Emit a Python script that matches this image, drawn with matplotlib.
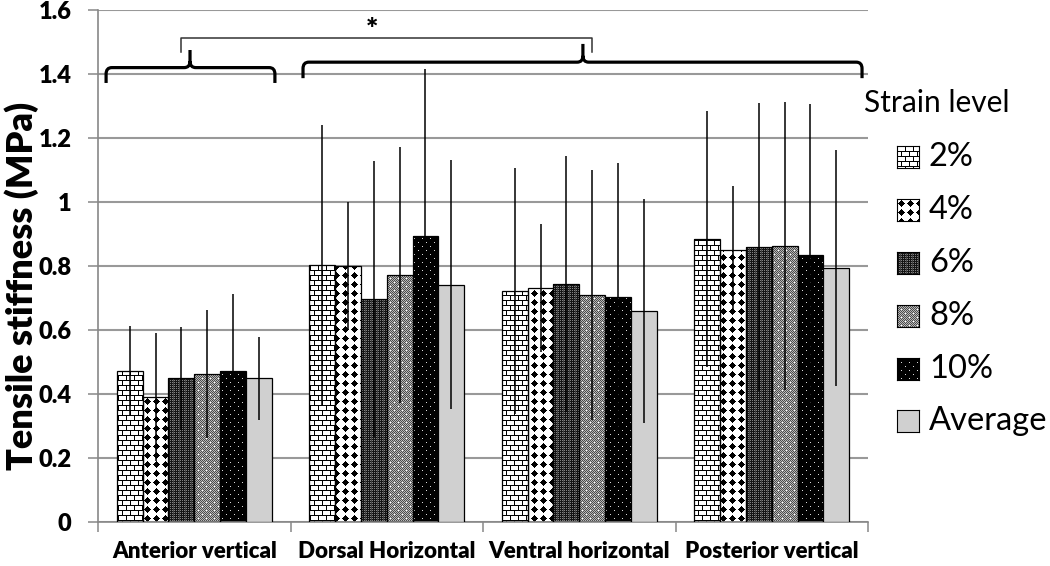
import numpy as np
import matplotlib
matplotlib.use("Agg")
import matplotlib.pyplot as plt
from matplotlib.path import Path
from matplotlib.patches import PathPatch

plt.rcParams['font.family'] = ['Lato', 'DejaVu Sans']

groups = ['Anterior vertical', 'Dorsal Horizontal', 'Ventral horizontal', 'Posterior vertical']
series = ['2%', '4%', '6%', '8%', '10%', 'Average']
means = {
    '2%':      [0.473, 0.802, 0.723, 0.883],
    '4%':      [0.392, 0.801, 0.730, 0.850],
    '6%':      [0.449, 0.697, 0.745, 0.859],
    '8%':      [0.463, 0.772, 0.709, 0.862],
    '10%':     [0.471, 0.895, 0.703, 0.835],
    'Average': [0.449, 0.742, 0.658, 0.794],
}
errs = {
    '2%':      [0.14, 0.44, 0.384, 0.40],
    '4%':      [0.20, 0.20, 0.20, 0.20],
    '6%':      [0.16, 0.43, 0.40, 0.45],
    '8%':      [0.20, 0.40, 0.39, 0.45],
    '10%':     [0.24, 0.52, 0.42, 0.47],
    'Average': [0.13, 0.39, 0.35, 0.37],
}
yticks = [0, 0.2, 0.4, 0.6, 0.8, 1.0, 1.2, 1.4, 1.6]
ytick_labels = ['0', '0.2', '0.4', '0.6', '0.8', '1', '1.2', '1.4', '1.6']


# --- fill textures (pixel patterns, like the excel pattern fills) ---
H, W = 512, 770
yy, xx = np.mgrid[0:H, 0:W]


def brick():
    row = yy // 5
    black = (yy % 5 == 0) | ((xx + (row % 2) * 4) % 8 == 0)
    return np.where(black, 0.0, 1.0)


def diamonds():
    cx = xx % 9 - 4
    cy = yy % 9 - 4
    return np.where(np.abs(cx) + np.abs(cy) <= 3, 0.0, 1.0)


def dense_dark():
    t = np.full((H, W), 0.08)
    t[(xx % 2 == 0) & (yy % 2 == 0)] = 0.5
    t[(xx % 6 == 3)] = 0.25
    return t


def gray_dots():
    t = np.where((xx + yy) % 2 == 0, 0.3, 0.72)
    dot = ((yy % 8 == 0) & (xx % 8 == 0)) | ((yy % 8 == 4) & (xx % 8 == 4))
    t[dot] = 1.0
    return t


def black_dots():
    t = np.zeros((H, W))
    dot = ((yy % 8 == 0) & (xx % 8 == 0)) | ((yy % 8 == 4) & (xx % 8 == 4))
    t[dot] = 0.85
    return t


textures = {
    '2%': brick(), '4%': diamonds(), '6%': dense_dark(),
    '8%': gray_dots(), '10%': black_dots(), 'Average': None,
}

fig = plt.figure(figsize=(10.5, 5.66), dpi=100)
ax = fig.add_axes([98 / 1050, 44 / 566, 770 / 1050, 512 / 566])

x = np.arange(len(groups))
w = 0.134
for j, s in enumerate(series):
    xs = x + (j - 2.5) * w
    if textures[s] is None:
        bars = ax.bar(xs, means[s], w, facecolor='#d0d0d0', edgecolor='black', linewidth=0.9, zorder=3)
    else:
        bars = ax.bar(xs, means[s], w, facecolor='none', edgecolor='black', linewidth=0.9, zorder=3)
        clip = Path.make_compound_path(*[b.get_path().transformed(b.get_patch_transform()) for b in bars])
        patch = PathPatch(clip, transform=ax.transData, facecolor='none', edgecolor='none')
        ax.add_patch(patch)
        im = ax.imshow(textures[s], cmap='gray', vmin=0, vmax=1, extent=(-0.5, 3.5, 0, 1.6),
                       interpolation='nearest', aspect='auto', zorder=2)
        im.set_clip_path(patch)
    ax.errorbar(xs, means[s], yerr=errs[s], fmt='none', ecolor='black', elinewidth=1.1,
                capsize=0, zorder=4)

ax.set_xlim(-0.5, 3.5)
ax.set_ylim(0, 1.6)
ax.set_yticks(yticks)
ax.set_yticklabels(ytick_labels)
ax.set_xticks(x)
ax.set_xticklabels(groups)
ax.set_xticks(np.arange(-0.5, 4, 1), minor=True)
ax.tick_params(axis='x', which='major', length=0, pad=14, labelsize=16)
ax.tick_params(axis='x', which='minor', length=7, color='#888888', width=1.1, direction='out')
ax.tick_params(axis='y', length=7, color='#888888', width=1.1, pad=12, labelsize=17)
for lab in ax.get_xticklabels() + ax.get_yticklabels():
    lab.set_fontweight('heavy')
ax.grid(axis='y', color='#999999', linewidth=1.5, zorder=0)
ax.set_axisbelow(True)
for sp in ['top', 'right']:
    ax.spines[sp].set_visible(False)
for sp in ['left', 'bottom']:
    ax.spines[sp].set_color('#888888')
    ax.spines[sp].set_linewidth(1.2)


def brace(x0, x1, xt, y, h_end, h_tip, lw=2.3):
    rx, ry = 0.03, 0.02
    verts = [(x0, y - h_end), (x0, y - ry), (x0, y), (x0 + rx, y),
             (xt - rx, y), (xt, y), (xt, y + ry), (xt, y + h_tip),
             (xt, y + ry), (xt, y), (xt + rx, y),
             (x1 - rx, y), (x1, y), (x1, y - ry), (x1, y - h_end)]
    codes = [Path.MOVETO, Path.LINETO, Path.CURVE3, Path.CURVE3,
             Path.LINETO, Path.CURVE3, Path.CURVE3, Path.LINETO,
             Path.MOVETO, Path.CURVE3, Path.CURVE3,
             Path.LINETO, Path.CURVE3, Path.CURVE3, Path.LINETO]
    ax.add_patch(PathPatch(Path(verts, codes), facecolor='none', edgecolor='black',
                           linewidth=lw, zorder=5, capstyle='butt', joinstyle='round'))


brace(-0.458, 0.419, -0.022, 1.42, 0.048, 0.055)
brace(0.565, 3.469, 2.019, 1.437, 0.05, 0.057)
ax.plot([-0.069, -0.069, 2.066, 2.066], [1.468, 1.5115, 1.5115, 1.468], color='#333333',
        linewidth=1.1, zorder=5)
ax.text(0.923, 1.537, '*', ha='center', va='center', fontsize=21, fontweight='heavy')

# legend drawn by hand so the pattern swatches match the bars
fig.text(864 / 1050, 1 - 103 / 566, 'Strain level', fontsize=21.5, va='center', ha='left')
leg_y = [157, 210, 263, 316, 369, 421]
for s, yc in zip(series, leg_y):
    sw = fig.add_axes([897 / 1050, 1 - (yc + 11) / 566, 22 / 1050, 22 / 566])
    if textures[s] is None:
        sw.set_facecolor('#d0d0d0')
    else:
        sw.imshow(textures[s][:22, :22], cmap='gray', vmin=0, vmax=1, interpolation='nearest', aspect='auto')
    sw.set_xticks([])
    sw.set_yticks([])
    for sp in sw.spines.values():
        sp.set_linewidth(0.8)
    fig.text(929 / 1050, 1 - yc / 566, s, fontsize=23.5, va='center', ha='left')

fig.text(22 / 1050, 1 - 286 / 566, 'Tensile stiffness (MPa)', rotation=90, fontsize=26,
         fontweight='heavy', ha='center', va='center')

fig.savefig('out.png', dpi=100)
